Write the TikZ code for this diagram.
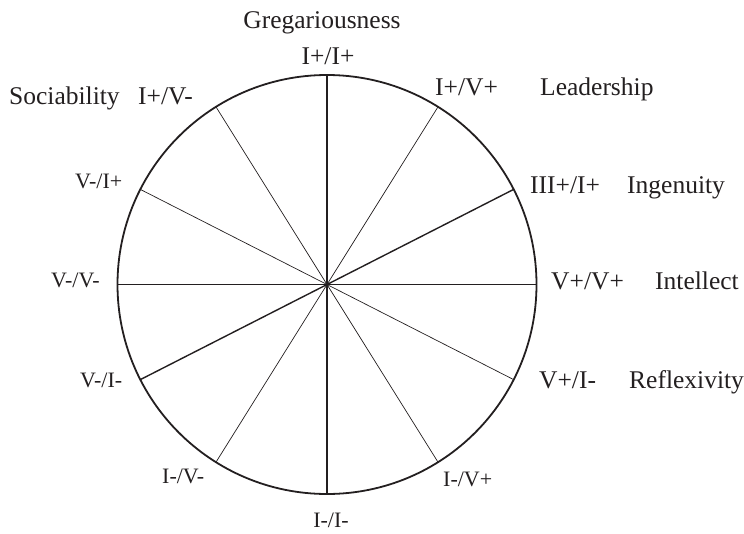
\documentclass[tikz,border=0pt]{standalone}
\usepackage{fontspec}
\setmainfont{Liberation Serif}
\usetikzlibrary{calc}
\definecolor{inkc}{HTML}{231F20}
\begin{document}
\begin{tikzpicture}[x=1pt,y=-1pt,
  ink/.style={color=inkc},
  rim/.style={ink, line width=1.8pt},
  thickspoke/.style={ink, line width=1.4pt},
  thinspoke/.style={ink, line width=0.7pt},
  big/.style={ink, inner sep=0pt, font=\fontsize{25.5}{30}\selectfont},
  small/.style={ink, inner sep=0pt, font=\fontsize{22}{26}\selectfont}]
\useasboundingbox (0,0) rectangle (744,533);
\coordinate (O) at (327,284.5);
\def\R{209.5pt}
\foreach \a/\n in {90/p90,270/p270,0/p0,180/p180,27/p27,207/p207,58/p58,238/p238,122/p122,302/p302,153/p153,333/p333}
  \coordinate (\n) at ($(O)+(\a:\R)$);
\draw[rim] (O) circle[radius=\R];
\foreach \n in {p90,p270,p0,p180,p27,p207}
  \draw[thickspoke] (O) -- (\n);
\foreach \n in {p58,p238,p122,p302,p153,p333}
  \draw[thinspoke] (O) -- (\n);
% labels
\node[big, anchor=base] (greg) at (322,28.5) {Gregariousness};
\node[big, anchor=base] (ipip) at (328,64) {I+/I+};
\node[big, anchor=base west] (soc) at (9,104) {Sociability};
\node[big, anchor=base west] (ipvm) at (138,104) {I+/V-};
\node[big, anchor=base west] (ipvp) at (435,95.5) {I+/V+};
\node[big, anchor=base west] (lead) at (540,95.5) {Leadership};
\node[big, anchor=base west] (iiip) at (530,193) {III+/I+};
\node[big, anchor=base west] (ing) at (627,193) {Ingenuity};
\node[big, anchor=base west] (vpvp) at (551,289) {V+/V+};
\node[big, anchor=base west] (intel) at (655,289) {Intellect};
\node[big, anchor=base west] (vpim) at (539,388) {V+/I-};
\node[big, anchor=base west] (refl) at (629,388) {Reflexivity};
\node[small, anchor=base west] (vmip) at (75,188.5) {V-/I+};
\node[small, anchor=base west] (vmvm) at (51,287) {V-/V-};
\node[small, anchor=base west] (vmim) at (80,387) {V-/I-};
\node[small, anchor=base west] (imvm) at (162,483) {I-/V-};
\node[small, anchor=base west] (imvp) at (443,486) {I-/V+};
\node[small, anchor=base] (imim) at (331,527) {I-/I-};
\end{tikzpicture}
\end{document}
